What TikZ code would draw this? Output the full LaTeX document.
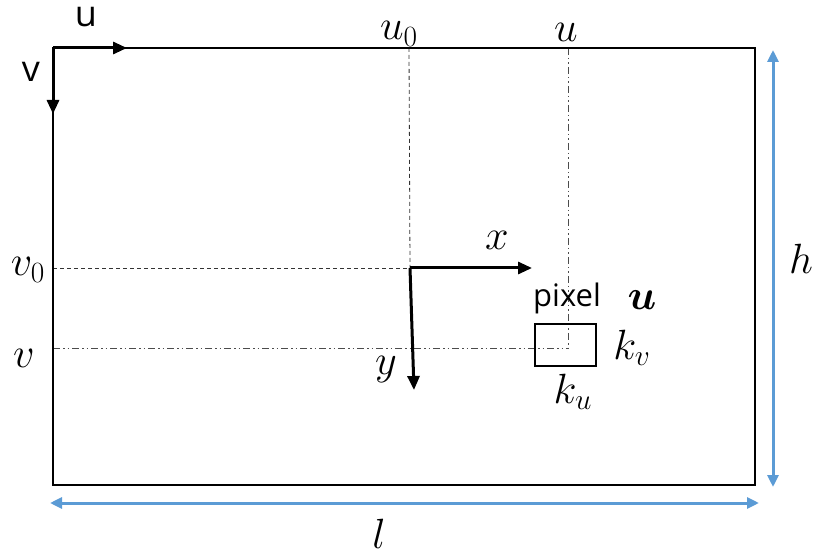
\documentclass[tikz,border=0pt]{standalone}
\usepackage{amsmath,bm}
\usepackage{fontspec}
\newfontfamily\labfont{Open Sans}
\usetikzlibrary{arrows.meta}
\definecolor{dimblue}{HTML}{5B9BD5}
\newcommand{\mymath}[1]{\scalebox{1.7}{$#1$}}
\begin{document}
\begin{tikzpicture}[x=1pt,y=-1pt,
  frame/.style={line width=2.5pt},
  axis/.style={line width=3pt,-{Triangle[length=14pt,width=12pt]}},
  guidedash/.style={line width=0.8pt,dash pattern=on 4pt off 3pt,black!80},
  guidedot/.style={line width=0.8pt,dash pattern=on 7pt off 3pt on 1.5pt off 3pt on 1.5pt off 3pt,black!70},
  dim/.style={line width=3pt,dimblue,{Triangle[length=12pt,width=11pt]}-{Triangle[length=12pt,width=11pt]}},
  mlab/.style={font=\fontsize{24}{28}\selectfont,inner sep=0pt},
  slab/.style={font=\labfont\fontsize{31}{35}\selectfont,inner sep=0pt},
  axlab/.style={font=\labfont\fontsize{36}{40}\selectfont,inner sep=0pt}]
\useasboundingbox (0,0) rectangle (820,556);
% coordinates
\coordinate (tl) at (53,48);
\coordinate (br) at (755,485);
\coordinate (o) at (410,268);
\coordinate (u0top) at (409,48);
\coordinate (utop) at (568,48);
\coordinate (v0left) at (53,268);
\coordinate (vleft) at (53,348);
\coordinate (pc) at (568,348);
\coordinate (xend) at (532,268);
\coordinate (yend) at (414,390);
\coordinate (uend) at (127,48);
\coordinate (vend) at (53,114);
\coordinate (ht) at (773,50);
\coordinate (hb) at (773,487);
\coordinate (ll) at (50,503);
\coordinate (lr) at (759,503);
% guides
\draw[guidedash] (u0top) -- (o);
\draw[guidedash] (v0left) -- (o);
\draw[guidedot] (utop) -- (pc);
\draw[guidedot] (vleft) -- (pc);
% frame
\draw[frame] (tl) rectangle (br);
% image axes
\draw[axis] (tl) -- (uend);
\draw[axis] (tl) -- (vend);
\node[axlab] (ulab) at (86,17) {u};
\node[axlab] (vlab) at (31,72) {v};
% camera axes
\draw[axis] (o) -- (xend);
\draw[axis] (o) -- (yend);
\node[mlab] (xlab) at (497,240) {\mymath{x}};
\node[mlab] (ylab) at (386,370) {\mymath{y}};
% pixel
\node[draw,line width=2pt,minimum width=61pt,minimum height=41pt,inner sep=0pt] (pix) at (565,345) {};
\node[slab] (pixlab) at (567,298) {pixel};
\node[mlab] (ubold) at (642,300) {\mymath{\bm{u}}};
\node[mlab] (kv) at (632,348) {\mymath{k_v}};
\node[mlab] (ku) at (573,392) {\mymath{k_u}};
% top and left labels
\node[mlab] (u0lab) at (399,34) {\mymath{u_0}};
\node[mlab] (ulab2) at (566,32) {\mymath{u}};
\node[mlab] (v0lab) at (28,270) {\mymath{v_0}};
\node[mlab] (vlab2) at (24,358) {\mymath{v}};
% dimensions
\draw[dim] (ht) -- (hb);
\draw[dim] (ll) -- (lr);
\node[mlab] (hlab) at (801,259) {\mymath{h}};
\node[mlab] (llab) at (379,534) {\mymath{l}};
\end{tikzpicture}
\end{document}
